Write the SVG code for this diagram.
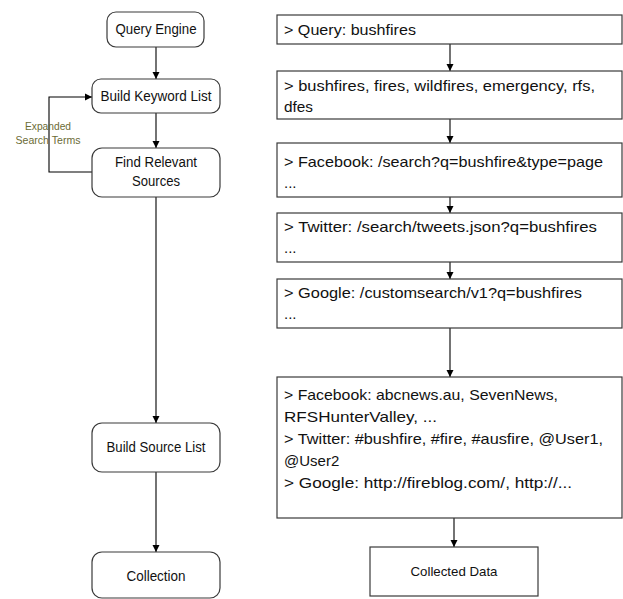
<svg xmlns="http://www.w3.org/2000/svg" width="623" height="599" viewBox="0 0 623 599">
<defs>
<marker id="ah" markerWidth="8" markerHeight="8" refX="7" refY="4" orient="auto" markerUnits="userSpaceOnUse">
<path d="M0,0.5 L7,4 L0,7.5 Z" fill="#000"/>
</marker>
<style>
.n{fill:#fff;stroke:#3a3a3a;stroke-width:1.2}
.t{font-family:"Liberation Sans",Arial,sans-serif;fill:#111}
.l{font-size:14px;text-anchor:middle}
.r{font-size:15px}
.e{fill:none;stroke:#000;stroke-width:1.1;marker-end:url(#ah)}
.lab{font-family:"Liberation Sans",Arial,sans-serif;font-size:10.5px;fill:#6b6b35;text-anchor:middle}
</style>
</defs>
<rect width="623" height="599" fill="#fff"/>
<g id="connectors">
<path class="e" d="M156,47 V79"/>
<path class="e" d="M156,113 V148"/>
<path class="e" d="M156,197 V423"/>
<path class="e" d="M156,472 V552"/>
<path class="e" d="M92,172 H49 V97 H92"/>
<path class="e" d="M450,44 V71"/>
<path class="e" d="M450,119 V143"/>
<path class="e" d="M450,197 V213"/>
<path class="e" d="M450,262 V279"/>
<path class="e" d="M450,328 V377"/>
<path class="e" d="M454,518 V547"/>
<text class="lab" x="48" y="130" textLength="46" lengthAdjust="spacingAndGlyphs">Expanded</text>
<text class="lab" x="48" y="144" textLength="65" lengthAdjust="spacingAndGlyphs">Search Terms</text>
</g>
<g id="query-engine"><rect class="n" x="107" y="12" width="97" height="35" rx="9"/><text class="t l" x="156" y="34" textLength="81" lengthAdjust="spacingAndGlyphs">Query Engine</text></g>
<g id="build-keyword-list"><rect class="n" x="92" y="79" width="128" height="34" rx="9"/><text class="t l" x="156" y="101" textLength="111" lengthAdjust="spacingAndGlyphs">Build Keyword List</text></g>
<g id="find-relevant-sources"><rect class="n" x="92" y="148" width="128" height="49" rx="10"/><text class="t l" x="156" y="167" textLength="82" lengthAdjust="spacingAndGlyphs">Find Relevant</text><text class="t l" x="156" y="186" textLength="48" lengthAdjust="spacingAndGlyphs">Sources</text></g>
<g id="build-source-list"><rect class="n" x="92" y="423" width="128" height="49" rx="10"/><text class="t l" x="156" y="452" textLength="99" lengthAdjust="spacingAndGlyphs">Build Source List</text></g>
<g id="collection"><rect class="n" x="92" y="552" width="128" height="46" rx="10"/><text class="t l" x="156" y="581" textLength="59" lengthAdjust="spacingAndGlyphs">Collection</text></g>
<g id="query-box"><rect class="n" x="277" y="15" width="345" height="29"/><text class="t r" x="284" y="35" textLength="132" lengthAdjust="spacingAndGlyphs">&gt; Query: bushfires</text></g>
<g id="keywords-box"><rect class="n" x="277" y="71" width="345" height="48"/><text class="t r" x="284" y="91" textLength="311" lengthAdjust="spacingAndGlyphs">&gt; bushfires, fires, wildfires, emergency, rfs,</text><text class="t r" x="284" y="112" textLength="29" lengthAdjust="spacingAndGlyphs">dfes</text></g>
<g id="facebook-box"><rect class="n" x="277" y="143" width="345" height="54"/><text class="t r" x="284" y="167" textLength="319" lengthAdjust="spacingAndGlyphs">&gt; Facebook: /search?q=bushfire&amp;type=page</text><text class="t r" x="284" y="188">...</text></g>
<g id="twitter-box"><rect class="n" x="277" y="213" width="345" height="49"/><text class="t r" x="284" y="232" textLength="313" lengthAdjust="spacingAndGlyphs">&gt; Twitter: /search/tweets.json?q=bushfires</text><text class="t r" x="284" y="253">...</text></g>
<g id="google-box"><rect class="n" x="277" y="279" width="345" height="49"/><text class="t r" x="284" y="298" textLength="298" lengthAdjust="spacingAndGlyphs">&gt; Google: /customsearch/v1?q=bushfires</text><text class="t r" x="284" y="319">...</text></g>
<g id="sources-box"><rect class="n" x="277" y="377" width="345" height="141"/>
<text class="t r" x="284" y="400" textLength="274" lengthAdjust="spacingAndGlyphs">&gt; Facebook: abcnews.au, SevenNews,</text>
<text class="t r" x="284" y="422" textLength="153" lengthAdjust="spacingAndGlyphs">RFSHunterValley, ...</text>
<text class="t r" x="284" y="444" textLength="319" lengthAdjust="spacingAndGlyphs">&gt; Twitter: #bushfire, #fire, #ausfire, @User1,</text>
<text class="t r" x="284" y="466">@User2</text>
<text class="t r" x="284" y="488" textLength="288" lengthAdjust="spacingAndGlyphs">&gt; Google: http://fireblog.com/, http://...</text>
</g>
<g id="collected-data"><rect class="n" x="370" y="547" width="168" height="49"/><text class="t" x="454" y="576" font-size="13" text-anchor="middle" textLength="87" lengthAdjust="spacingAndGlyphs">Collected Data</text></g>
</svg>
